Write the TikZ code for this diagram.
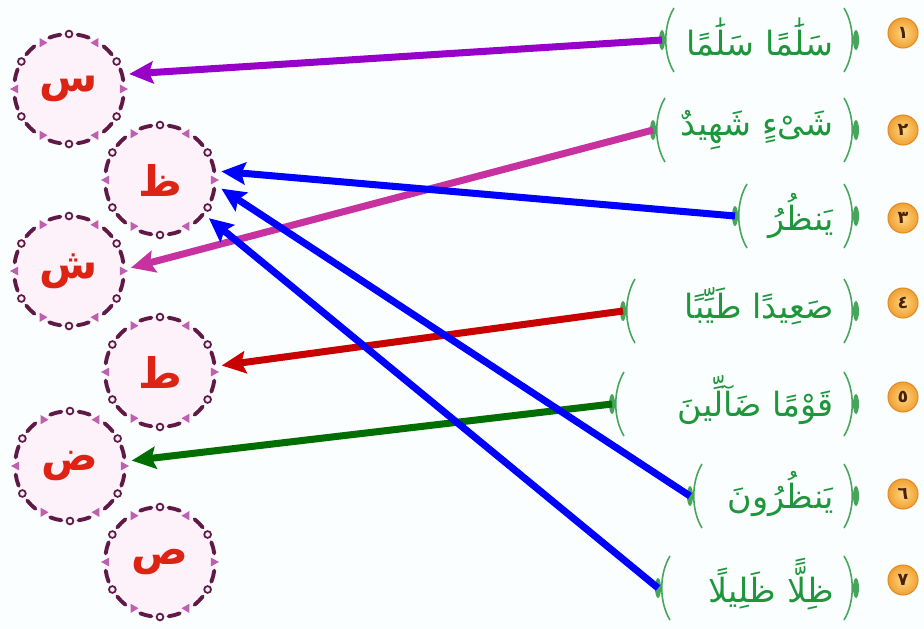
\documentclass[tikz,border=0pt]{standalone}
\usepackage{fontspec}
\newfontfamily\arabicfont[Script=Arabic]{DejaVu Sans}
\TeXXeTstate=1
\usetikzlibrary{positioning}
\usetikzlibrary{calc}
\usetikzlibrary{arrows.meta}
\definecolor{bgc}{RGB}{251,254,254}
\definecolor{ltrred}{RGB}{220,35,20}
\definecolor{ringfill}{RGB}{253,242,250}
\definecolor{ringdark}{RGB}{95,25,70}
\definecolor{ringpink}{RGB}{190,95,175}
\definecolor{qgreen}{RGB}{30,150,60}
\definecolor{brkgreen}{RGB}{70,165,90}
\definecolor{numin}{RGB}{255,215,130}
\definecolor{numout}{RGB}{240,160,50}
\definecolor{numedge}{RGB}{225,140,40}
\definecolor{numtext}{RGB}{70,35,10}
\definecolor{apurple}{RGB}{150,0,200}
\definecolor{amagenta}{RGB}{200,50,160}
\definecolor{ablue}{RGB}{0,0,255}
\definecolor{ared}{RGB}{200,0,0}
\definecolor{agreen}{RGB}{0,110,0}
\tikzset{>={Stealth[length=0.48cm,width=0.44cm,inset=0.08cm]}}
\tikzset{letter/.style={circle, fill=ringfill, minimum size=2.2cm, inner sep=0pt, outer sep=0.14cm, text=ltrred, font=\arabicfont\bfseries\fontsize{24}{28}\selectfont}}
\tikzset{num/.style={circle, inner color=numin, outer color=numout, draw=numedge, line width=0.6pt, minimum size=0.6cm, inner sep=0pt, text=numtext, font=\arabicfont\bfseries\normalsize}}
\tikzset{phrase/.style={anchor=east, inner sep=0pt, text=qgreen, font=\arabicfont\fontsize{19}{23}\selectfont}}
\tikzset{arr/.style={->, line width=4pt}}
\tikzset{brk/.style={draw=brkgreen, line width=0.9pt}}
\tikzset{leaf/.style={fill=brkgreen}}
\tikzset{ringdash/.style={draw=ringdark, line width=2.2pt, line cap=round}}
\tikzset{ringdot/.style={draw=ringdark, fill=ringfill, line width=1pt}}

\begin{document}
\begin{tikzpicture}[x=0.02cm, y=0.02cm]
\path[use as bounding box, fill=bgc] (0,0) rectangle (924,-629);

% letters
\node[letter] (sin) at (69,-89) {\beginR س\endR};
\node[letter] (zaa) at (160,-180) {\beginR ظ\endR};
\node[letter] (shin) at (69,-271) {\beginR ش\endR};
\node[letter] (taa) at (160,-372) {\beginR ط\endR};
\node[letter] (dad) at (70,-466) {\beginR ض\endR};
\node[letter] (sad) at (160,-562) {\beginR ص\endR};

\foreach \L in {sin,zaa,shin,taa,dad,sad}{
  \foreach \a in {15,45,...,345}
    \draw[ringdash] ($(\L)+({\a-6}:55)$) arc[start angle=\a-6, end angle=\a+6, radius=55];
  \foreach \a in {30,90,...,330}
    \draw[ringdot] ($(\L)+(\a:55)$) circle (3.4);
  \foreach \a in {0,60,...,300}
    \fill[ringpink] ($(\L)+({\a-5}:51)$) -- ($(\L)+(\a:59)$) -- ($(\L)+({\a+5}:51)$) -- cycle;
}

% numbers
\node[num] (n1) at (903,-33) {١};
\node[num] (n2) at (903,-130) {٢};
\node[num] (n3) at (903,-218) {٣};
\node[num] (n4) at (903,-303) {٤};
\node[num] (n5) at (903,-397) {٥};
\node[num] (n6) at (903,-494) {٦};
\node[num] (n7) at (903,-580) {٧};

% phrases
\node[phrase] (p1) at (834,-37) {\beginR سَلَٰمًا سَلَٰمًا\endR};
\node[phrase] (p2) at (834,-130) {\beginR شَىْءٍ شَهِيدٌ\endR};
\node[phrase] (p3) at (834,-216) {\beginR يَنظُرُ\endR};
\node[phrase] (p4) at (834,-306) {\beginR صَعِيدًا طَيِّبًا\endR};
\node[phrase] (p5) at (834,-400) {\beginR قَوْمًا ضَآلِّينَ\endR};
\node[phrase] (p6) at (834,-494) {\beginR يَنظُرُونَ\endR};
\node[phrase] (p7) at (834,-584) {\beginR ظِلًّا ظَلِيلًا\endR};

% brackets
\foreach \i/\xl/\yy in {1/662/40,2/653/130,3/735/216,4/623/311,5/612/404,6/690/496,7/658/588}{
  \coordinate (b\i) at (\xl,-\yy);
  \coordinate (e\i) at (856,-\yy);
  \draw[brk] ($(b\i)+(12,32)$) .. controls ($(b\i)+(1,14)$) and ($(b\i)+(1,-14)$) .. ($(b\i)+(12,-32)$);
  \draw[brk] ($(e\i)+(-12,32)$) .. controls ($(e\i)+(-1,14)$) and ($(e\i)+(-1,-14)$) .. ($(e\i)+(-12,-32)$);
  \fill[leaf] (b\i) ellipse [x radius=3, y radius=10];
  \fill[leaf] (e\i) ellipse [x radius=3, y radius=10];
}

% arrows
\draw[arr, apurple] (b1) -- (sin.14);
\draw[arr, amagenta] (b2) -- (shin.3);
\draw[arr, ared] (b4) -- (taa.6);
\draw[arr, agreen] (b5) -- (dad.5);
\draw[arr, ablue] (b3) -- (zaa.8);
\draw[arr, ablue] (b6) -- (zaa.-8);
\draw[arr, ablue] (b7) -- (zaa.-38);
\end{tikzpicture}
\end{document}
